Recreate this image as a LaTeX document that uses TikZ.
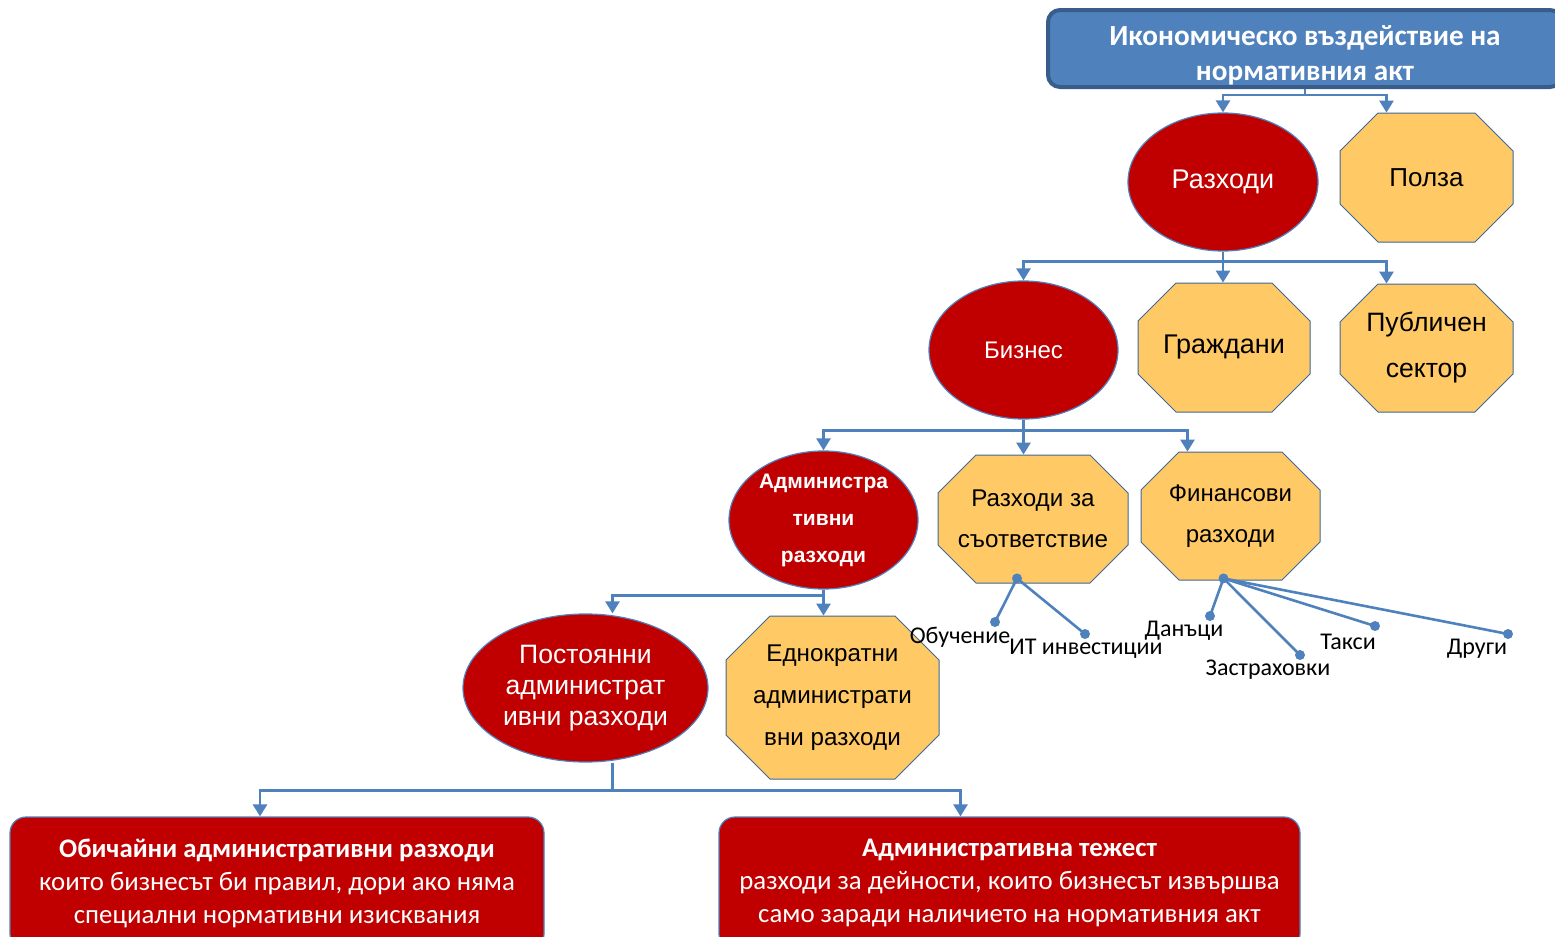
\documentclass[tikz,border=0pt]{standalone}
\usepackage{fontspec}
\setmainfont{Carlito}
\newfontfamily\arialfont{Liberation Sans}
\usetikzlibrary{calc,positioning,shapes.geometric,arrows.meta}
\definecolor{kred}{HTML}{C00000}
\definecolor{kblue}{HTML}{4F81BD}
\definecolor{kdarkblue}{HTML}{385D8A}
\definecolor{kgold}{HTML}{FFCA66}
\tikzset{
	oval/.style={ellipse, fill=kred, draw=kblue, line width=0.6pt, text=white, align=center, inner sep=0pt},
	octa/.style={fill=kgold, draw=kblue!80!black, line width=0.5pt},
	conn/.style={kblue, line width=1.3pt},
	arr/.style={conn, -{Triangle[width=7pt,length=6pt]}},
	dot/.style={circle, fill=kblue, inner sep=0pt, minimum size=5pt},
	leaf/.style={font=\fontsize{12}{14}\selectfont, inner sep=0pt},
	redbox/.style={rounded corners=8pt, fill=kred, draw=kblue, line width=0.6pt, text=white, align=center, font=\fontsize{13.4}{16.5}\selectfont}
}
% octagon: options, name, centre x, centre y, half width, half height, corner cut, text
\newcommand{\octanode}[8]{
	\filldraw[octa] (#3-#5+#7,#4-#6) -- (#3+#5-#7,#4-#6) -- (#3+#5,#4-#6+#7) -- (#3+#5,#4+#6-#7)
		-- (#3+#5-#7,#4+#6) -- (#3-#5+#7,#4+#6) -- (#3-#5,#4+#6-#7) -- (#3-#5,#4-#6+#7) -- cycle;
	\node[align=center, inner sep=0pt, minimum width=#5pt, minimum height=#6pt, #1] (#2) at (#3,#4) {#8};
}

\begin{document}
\begin{tikzpicture}[x=0.5pt,y=-0.5pt]
	\useasboundingbox (0,0) rectangle (1555,937);
	\clip (0,0) rectangle (1555,937);

	% head of the tree
	\node[rounded corners=6pt, fill=kblue, draw=kdarkblue, line width=2pt, minimum width=257pt, minimum height=38.5pt, inner sep=0pt]
		(top) at (1305,48.5) {};
	\node[text=white, align=center, inner sep=0pt, font=\bfseries\fontsize{14.6}{17.5}\selectfont]
		(top-t) at (1305,55) {Икономическо въздействие на\\нормативния акт};

	% costs and benefits
	\node[oval, minimum width=95pt, minimum height=69pt, font=\arialfont\fontsize{13.5}{15}\selectfont] (razhodi) at (1223,182) {Разходи};
	\octanode{font=\arialfont\fontsize{13}{15}\selectfont}{polza}{1426.5}{177.5}{86.5}{64.5}{38}{Полза}

	\node[oval, minimum width=94.5pt, minimum height=69pt, font=\arialfont\fontsize{12}{14}\selectfont] (biznes) at (1023.5,350) {Бизнес};
	\octanode{font=\arialfont\fontsize{13.5}{15}\selectfont}{grazhdani}{1224}{347.5}{86}{64.5}{38}{Граждани}
	\octanode{font=\arialfont\fontsize{13.3}{23}\selectfont}{publichen}{1426.5}{348}{86.5}{64}{38}{Публичен\\сектор}

	\node[oval, minimum width=94.5pt, minimum height=69pt, font=\arialfont\bfseries\fontsize{10.5}{18.5}\selectfont] (admin) at (823.5,520) {Администра\\тивни\\разходи};
	\octanode{font=\arialfont\fontsize{12.1}{20.5}\selectfont}{suotv}{1033}{519}{95}{64}{38}{Разходи за\\съответствие}
	\octanode{font=\arialfont\fontsize{12}{20.5}\selectfont}{finansovi}{1230.5}{516}{89.5}{64}{38}{Финансови\\разходи}

	\node[oval, minimum width=122.5pt, minimum height=74pt, font=\arialfont\fontsize{13.3}{15.5}\selectfont] (postoyanni) at (585.5,688) {Постоянни\\администрат\\ивни разходи};
	\octanode{font=\arialfont\fontsize{12.1}{21}\selectfont}{ednokratni}{832.5}{697.5}{106.5}{81.5}{44}{Еднократни\\администрати\\вни разходи}

	\node[redbox, minimum width=267pt, minimum height=66.5pt] (obichaini) at (277,883.5)
		{\textbf{Обичайни административни разходи}\\които бизнесът би правил, дори ако няма\\специални нормативни изисквания};
	\node[redbox, minimum width=290.5pt, minimum height=66.5pt] (tezhest) at (1009.5,883.5)
		{\textbf{Административна тежест}\\разходи за дейности, които бизнесът извършва\\само заради наличието на нормативния акт};

	% branches
	\coordinate (f0) at ($(top.south)+(0,6)$);
	\draw[conn] (top.south) -- (f0);
	\draw[arr] (f0) -| (razhodi.north);
	\draw[arr] (f0) -| ($(polza.north)+(-40,0)$);

	\coordinate (f1) at ($(razhodi.south)+(0,10)$);
	\draw[conn] (razhodi.south) -- (f1);
	\draw[arr] (f1) -| (biznes.north);
	\draw[arr] (f1) -- (f1 |- grazhdani.north);
	\draw[arr] (f1) -| ($(publichen.north)+(-40,0)$);

	\coordinate (f2) at ($(biznes.south)+(0,11)$);
	\draw[conn] (biznes.south) -- (f2);
	\draw[arr] (f2) -| (admin.north);
	\draw[arr] (f2) -- (f2 |- suotv.north);
	\draw[arr] (f2) -| ($(finansovi.north)+(-43,0)$);

	\coordinate (f3) at ($(admin.south)+(0,6)$);
	\draw[conn] (admin.south) -- (f3);
	\draw[arr] (f3) -| ($(postoyanni.north)+(27,0)$);
	\draw[arr] (f3) -- (f3 |- ednokratni.north);

	\coordinate (f4) at ($(postoyanni.south)+(27,28)$);
	\draw[conn] (postoyanni.south -| f4) -- (f4);
	\draw[arr] (f4) -| ($(obichaini.north)+(-17,0)$);
	\draw[arr] (f4) -| ($(tezhest.north)+(-49,0)$);

	% compliance costs
	\node[dot] (h1) at ($(suotv.south)+(-16,-5)$) {};
	\node[dot] (obuchenie) at (995,622) {};
	\node[dot] (itinv) at (1085,634) {};
	\draw[conn] (h1.center) -- (obuchenie.center);
	\draw[conn] (h1.center) -- (itinv.center);
	\node[leaf] (obuchenie-t) at (960,637) {Обучение};
	\node[leaf] (itinv-t) at (1086,649) {ИТ инвестиции};

	% financial costs
	\node[dot] (h2) at ($(finansovi.south)+(-7,-2)$) {};
	\node[dot] (danatsi) at (1210,616) {};
	\node[dot] (zastrahovki) at (1300,655) {};
	\node[dot] (taksi) at (1375,626) {};
	\node[dot] (drugi) at (1508,634) {};
	\draw[conn] (h2.center) -- (danatsi.center);
	\draw[conn] (h2.center) -- (zastrahovki.center);
	\draw[conn] (h2.center) -- (taksi.center);
	\draw[conn] (h2.center) -- (drugi.center);
	\node[leaf] (danatsi-t) at (1184,631) {Данъци};
	\node[leaf] (zastrahovki-t) at (1268,670) {Застраховки};
	\node[leaf] (taksi-t) at (1348,642) {Такси};
	\node[leaf] (drugi-t) at (1477,649) {Други};
\end{tikzpicture}
\end{document}
